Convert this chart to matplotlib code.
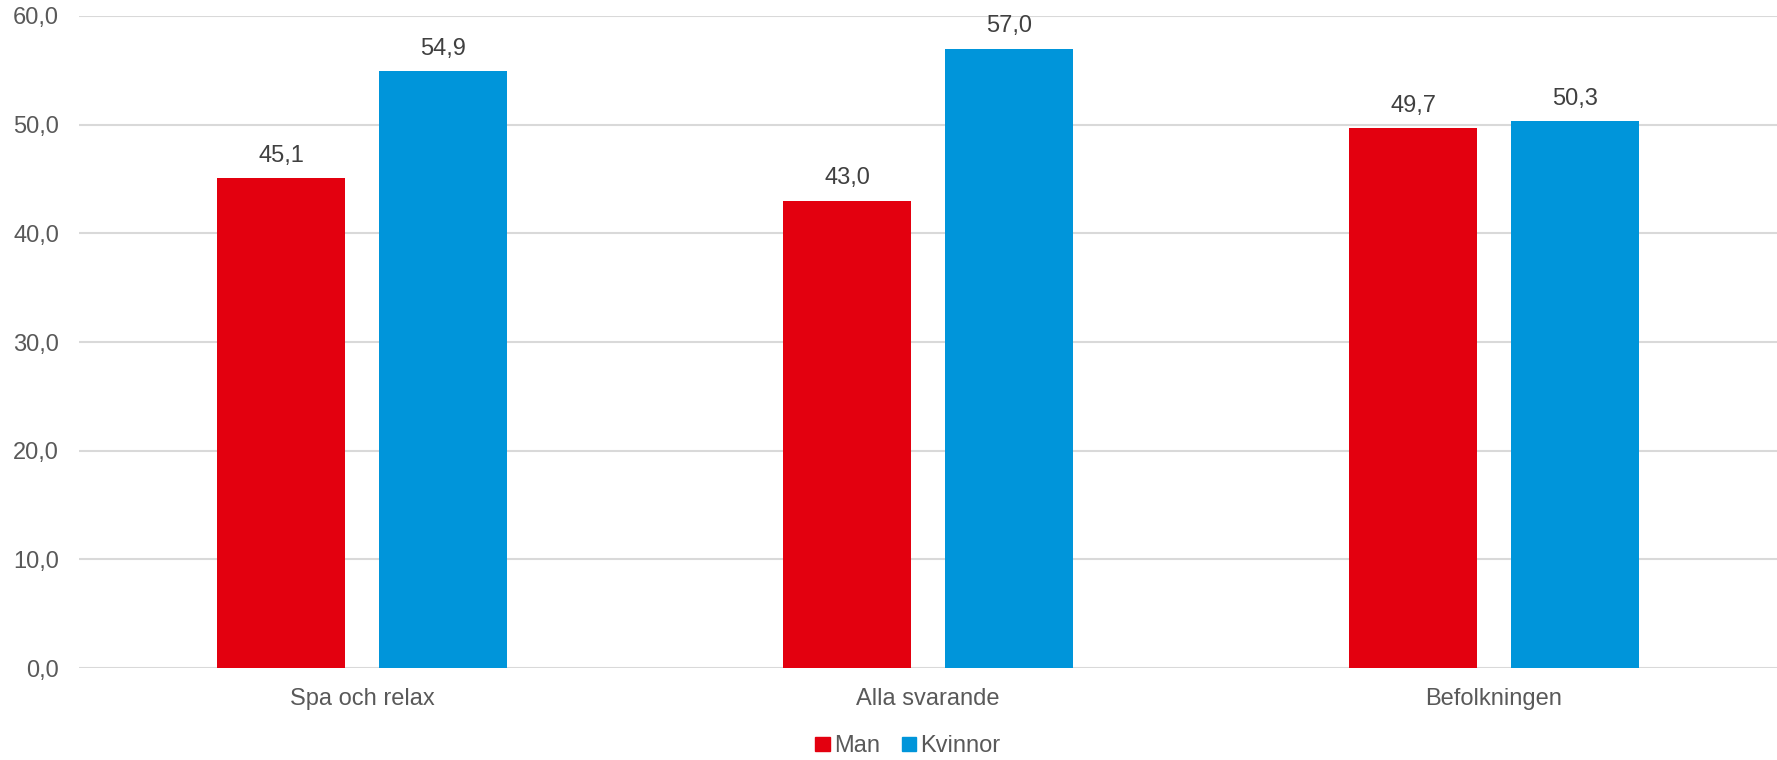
import numpy as np
import matplotlib.pyplot as plt
from matplotlib.patches import Patch

categories = ["Spa och relax", "Alla svarande", "Befolkningen"]
series_names = ["Man", "Kvinnor"]
man = [45.1, 43.0, 49.7]
kvinnor = [54.9, 57.0, 50.3]
yticks = [0, 10, 20, 30, 40, 50, 60]

colors = ["#E3000F", "#0095DA"]

plt.rcParams['font.family'] = ['Liberation Sans', 'DejaVu Sans']
FS = 17

fig = plt.figure(figsize=(17.77, 7.6), dpi=100)
ax = fig.add_axes([0.0445, 0.121, 0.9555, 0.858])

x = np.arange(len(categories))
w = 0.226
off = 0.143
for vals, name, c, d in [(man, series_names[0], colors[0], -off), (kvinnor, series_names[1], colors[1], off)]:
    bars = ax.bar(x + d, vals, width=w, color=c, label=name, zorder=3)
    for b, v in zip(bars, vals):
        ax.text(b.get_x() + b.get_width() / 2, v + 1.5, f"{v:.1f}".replace(".", ","),
                ha="center", va="baseline", fontsize=FS, color="#404040")

ax.set_xlim(-0.5, len(categories) - 0.5)
ax.set_ylim(0, 60)
ax.set_yticks(yticks)
ax.set_yticklabels([f"{t:.1f}".replace(".", ",") for t in yticks], fontsize=FS, color="#595959")
ax.set_xticks(x)
ax.set_xticklabels(categories, fontsize=FS, color="#595959")
ax.tick_params(axis="both", length=0)
ax.tick_params(axis="y", pad=14.5)
ax.tick_params(axis="x", pad=14.5)
ax.yaxis.grid(True, color="#D9D9D9", linewidth=1.5, zorder=0)
for s in ax.spines.values():
    s.set_visible(False)

handles = [Patch(color=c, label=n) for c, n in zip(colors, series_names)]
fig.legend(handles=handles, loc="center", bbox_to_anchor=(0.511, 0.018), ncol=2,
           frameon=False, fontsize=FS, handlelength=0.6, handleheight=0.6,
           handletextpad=0.2, columnspacing=0.9, labelcolor="#595959",
           borderpad=0)

fig.savefig("out.png", dpi=100)
